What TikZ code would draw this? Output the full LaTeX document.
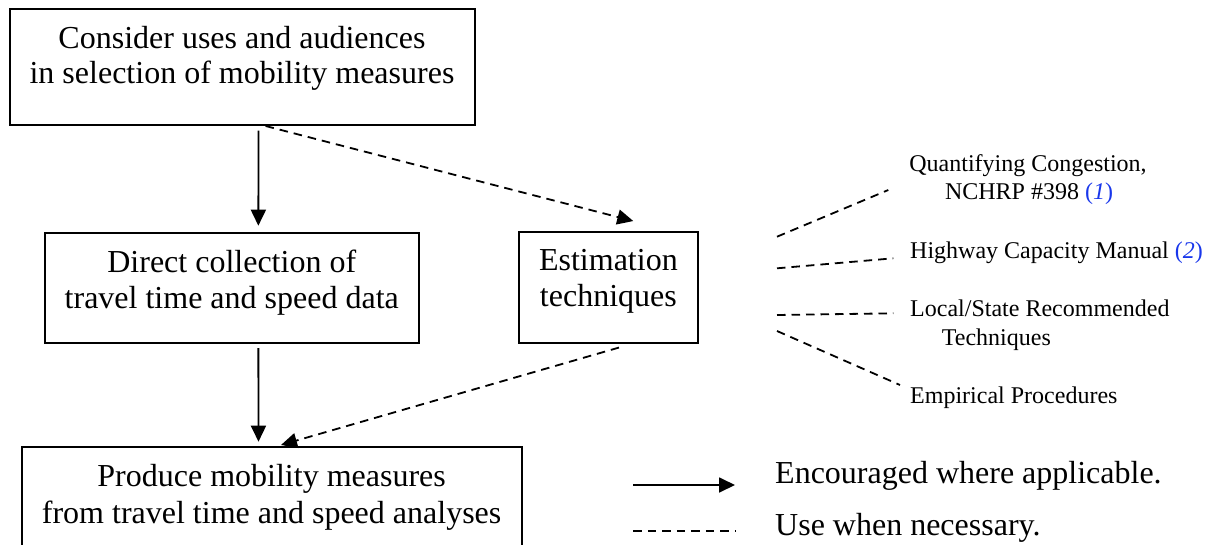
\documentclass[tikz,border=0pt]{standalone}
\usepackage{fontspec}
\setmainfont{Liberation Serif}
\usetikzlibrary{arrows.meta,calc}
\definecolor{refblue}{RGB}{25,55,235}
\begin{document}
\begin{tikzpicture}[x=1pt,y=-1pt,
  box/.style={draw, line width=2pt, inner sep=0pt},
  big/.style={font=\fontsize{32}{35}\selectfont, anchor=base, inner sep=0pt},
  small/.style={font=\fontsize{24}{28}\selectfont, anchor=base, inner sep=0pt},
  smallw/.style={small, anchor=base west},
  bigw/.style={big, anchor=base west},
  solidarrow/.style={line width=1.8pt, -{Triangle[length=16pt,width=15pt]}},
  dasharrow/.style={solidarrow, dash pattern=on 8.5pt off 6pt},
  dashline/.style={line width=1.8pt, dash pattern=on 8.5pt off 6pt}]
\useasboundingbox (0,0) rectangle (1208,544);
\clip (0,0) rectangle (1208,544);
% boxes
\node[box, minimum width=465pt, minimum height=116pt] (b1) at (242.5,66.5) {};
\node[box, minimum width=374.5pt, minimum height=110pt] (b2) at (231.75,287.7) {};
\node[box, minimum width=178.7pt, minimum height=110.5pt] (b3) at (608.4,287.3) {};
\node[box, minimum width=500pt, minimum height=103pt] (b4) at (271.6,498.5) {};
% box texts
\node[big] (t1a) at (242,48) {Consider uses and audiences};
\node[big] (t1b) at (242,83) {in selection of mobility measures};
\node[big] (t2a) at (231.75,272.7) {Direct collection of};
\node[big] (t2b) at (231.75,308) {travel time and speed data};
\node[big] (t3a) at (608.4,270) {Estimation};
\node[big] (t3b) at (608.4,306.7) {techniques};
\node[big] (t4a) at (271.6,486.7) {Produce mobility measures};
\node[big] (t4b) at (271.6,523.3) {from travel time and speed analyses};
% connectors
\draw[solidarrow] ($(b1.south)+(16,5)$) -- ($(b2.north)+(26.6,-6)$);
\draw[dasharrow] ($(b1.south)+(23.1,0.5)$) -- ($(b3.north)+(24.9,-10)$);
\draw[solidarrow] ($(b2.south)+(26.6,4.3)$) -- ($(b4.north)+(-13.1,-4.3)$);
\draw[dasharrow] ($(b3.south)+(10.6,4)$) -- ($(b4.north)+(9.4,-1)$);
% right side techniques
\coordinate (l1s) at (777,236.7); \coordinate (l1e) at (888.3,190);
\coordinate (l2s) at (777,268.3); \coordinate (l2e) at (893.3,258.3);
\coordinate (l3s) at (777,315);   \coordinate (l3e) at (893.3,313.3);
\coordinate (l4s) at (777,331);   \coordinate (l4e) at (900,385);
\draw[dashline] (l1s) -- (l1e);
\draw[dashline] (l2s) -- (l2e);
\draw[dashline] (l3s) -- (l3e);
\draw[dashline] (l4s) -- (l4e);
\node[small] (r1a) at (1028,171.7) {Quantifying Congestion,};
\node[small] (r1b) at (1029,199.3) {NCHRP \#398 {\color{refblue}(\textit{1})}};
\node[smallw] (r2) at (910,258.3) {Highway Capacity Manual {\color{refblue}(\textit{2})}};
\node[smallw] (r3a) at (910,316.7) {Local/State Recommended};
\node[smallw] (r3b) at (941.7,345) {Techniques};
\node[smallw] (r4) at (910,403.3) {Empirical Procedures};
% legend
\coordinate (g1s) at (633.3,485); \coordinate (g1e) at (735,485);
\coordinate (g2s) at (633.3,530.7); \coordinate (g2e) at (735,530.7);
\draw[solidarrow] (g1s) -- (g1e);
\draw[dashline] (g2s) -- (g2e);
\node[bigw] (lg1) at (775,483) {Encouraged where applicable.};
\node[bigw] (lg2) at (775,535) {Use when necessary.};
\end{tikzpicture}
\end{document}
